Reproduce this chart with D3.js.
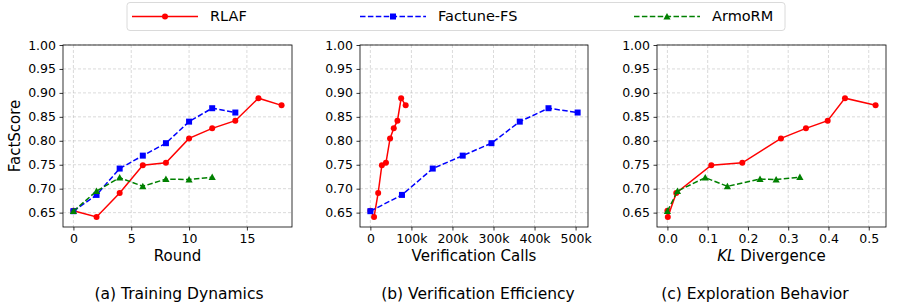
<!DOCTYPE html>
<html>
<head>
<meta charset="utf-8">
<script src="https://cdn.jsdelivr.net/npm/d3@7"></script>
<style>
  body { margin: 0; background: #fff; }
  text { font-family: "DejaVu Sans", sans-serif; fill: #000; }
</style>
</head>
<body>
<div class="chart"></div>
<script>
var svgWidth = 904;
var svgHeight = 302;

// data
var rlafRounds = [0, 2, 4, 6, 8, 10, 12, 14, 16, 18];
var rlafScore = [0.654, 0.641, 0.691, 0.749, 0.754, 0.805, 0.826, 0.842, 0.889, 0.874];
var rlafCalls = [0, 9000, 19000, 28000, 38000, 48000, 57000, 66000, 75000, 86000];
var rlafKL = [0.0, 0.001, 0.022, 0.109, 0.186, 0.282, 0.344, 0.398, 0.441, 0.517];

var factuneRounds = [0, 2, 4, 6, 8, 10, 12, 14];
var factuneScore = [0.653, 0.687, 0.742, 0.769, 0.795, 0.840, 0.868, 0.859];
var factuneCalls = [0, 77000, 152000, 225000, 295000, 364000, 434000, 505000];

var armoRounds = [0, 2, 4, 6, 8, 10, 12];
var armoScore = [0.653, 0.695, 0.723, 0.705, 0.720, 0.719, 0.724];
var armoKL = [0.0, 0.025, 0.094, 0.149, 0.230, 0.270, 0.329];

var yTicks = [0.65, 0.70, 0.75, 0.80, 0.85, 0.90, 0.95, 1.00];
var roundTicks = [0, 5, 10, 15];
var callTicks = [0, 100000, 200000, 300000, 400000, 500000];
var klTicks = [0.0, 0.1, 0.2, 0.3, 0.4, 0.5];

var seriesNames = ["RLAF", "Factune-FS", "ArmoRM"];
var captions = ["(a) Training Dynamics", "(b) Verification Efficiency", "(c) Exploration Behavior"];

var styles = {
  "RLAF": { color: "red", dash: null, marker: "circle" },
  "Factune-FS": { color: "blue", dash: "5.5,2.4", marker: "square" },
  "ArmoRM": { color: "green", dash: "5.5,2.4", marker: "triangle" }
};

var svg = d3.select(".chart")
  .append("svg")
  .attr("width", svgWidth)
  .attr("height", svgHeight);

var plotTop = 45, plotBottom = 227;

var yScale = d3.scaleLinear().domain([0.62, 1.0]).range([plotBottom, plotTop]);

function padDomain(vals) {
  var lo = d3.min(vals), hi = d3.max(vals);
  var m = (hi - lo) * 0.05;
  return [lo - m, hi + m];
}

function fmtK(d) { return d === 0 ? "0" : (d / 1000) + "k"; }

var panels = [
  {
    left: 63, right: 292,
    domain: padDomain(rlafRounds),
    ticks: roundTicks, fmt: d3.format("d"),
    xlabel: "Round", ylabel: true, captionX: 179,
    series: [
      { name: "RLAF", x: rlafRounds, y: rlafScore },
      { name: "Factune-FS", x: factuneRounds, y: factuneScore },
      { name: "ArmoRM", x: armoRounds, y: armoScore }
    ]
  },
  {
    left: 360, right: 588,
    domain: padDomain(factuneCalls),
    ticks: callTicks, fmt: fmtK,
    xlabel: "Verification Calls", ylabel: false, captionX: 478,
    series: [
      { name: "RLAF", x: rlafCalls, y: rlafScore },
      { name: "Factune-FS", x: factuneCalls, y: factuneScore }
    ]
  },
  {
    left: 657, right: 886,
    domain: padDomain(rlafKL),
    ticks: klTicks, fmt: d3.format(".1f"),
    xlabel: "KL", ylabel: false, captionX: 755,
    series: [
      { name: "RLAF", x: rlafKL, y: rlafScore },
      { name: "ArmoRM", x: armoKL, y: armoScore }
    ]
  }
];

function drawMarker(g, kind, cx, cy, color) {
  if (kind === "circle") {
    g.append("circle").attr("cx", cx).attr("cy", cy).attr("r", 3).attr("fill", color);
  } else if (kind === "square") {
    g.append("rect").attr("x", cx - 3).attr("y", cy - 3).attr("width", 6).attr("height", 6).attr("fill", color);
  } else {
    var s = 3.6;
    g.append("path")
      .attr("d", `M${cx},${cy - s}L${cx + s},${cy + s * 0.8}L${cx - s},${cy + s * 0.8}Z`)
      .attr("fill", color);
  }
}

panels.forEach(function(p, pi) {
  var xScale = d3.scaleLinear().domain(p.domain).range([p.left, p.right]);
  var g = svg.append("g");

  // grid
  g.selectAll("line.vgrid").data(p.ticks).enter().append("line")
    .attr("x1", d => xScale(d)).attr("x2", d => xScale(d))
    .attr("y1", plotTop).attr("y2", plotBottom)
    .attr("stroke", "#b0b0b0").attr("stroke-opacity", 0.6)
    .attr("stroke-width", 0.8).attr("stroke-dasharray", "3,2");
  g.selectAll("line.hgrid").data(yTicks).enter().append("line")
    .attr("x1", p.left).attr("x2", p.right)
    .attr("y1", d => yScale(d)).attr("y2", d => yScale(d))
    .attr("stroke", "#b0b0b0").attr("stroke-opacity", 0.6)
    .attr("stroke-width", 0.8).attr("stroke-dasharray", "3,2");

  // axes
  var xAxis = d3.axisBottom(xScale).tickValues(p.ticks).tickFormat(p.fmt).tickSize(3.5).tickPadding(3.5);
  var yAxis = d3.axisLeft(yScale).tickValues(yTicks).tickFormat(d3.format(".2f")).tickSize(3.5).tickPadding(3.5);

  var gx = g.append("g").attr("transform", `translate(0, ${plotBottom})`).call(xAxis);
  var gy = g.append("g").attr("transform", `translate(${p.left}, 0)`).call(yAxis);
  [gx, gy].forEach(function(a) {
    a.select(".domain").remove();
    a.selectAll("line").attr("stroke", "#000").attr("stroke-width", 0.8);
    a.selectAll("text").attr("font-size", "12.5px").attr("font-family", "DejaVu Sans").attr("fill", "#000");
  });

  g.append("rect")
    .attr("x", p.left).attr("y", plotTop)
    .attr("width", p.right - p.left).attr("height", plotBottom - plotTop)
    .attr("fill", "none").attr("stroke", "#000").attr("stroke-width", 0.8);

  // series
  p.series.forEach(function(s) {
    var st = styles[s.name];
    var pts = s.x.map((v, i) => [xScale(v), yScale(s.y[i])]);
    g.append("path")
      .attr("d", d3.line()(pts))
      .attr("fill", "none")
      .attr("stroke", st.color)
      .attr("stroke-width", 1.5)
      .attr("stroke-dasharray", st.dash);
    pts.forEach(function(pt) { drawMarker(g, st.marker, pt[0], pt[1], st.color); });
  });

  // x label
  var xl = g.append("text")
    .attr("x", (p.left + p.right) / 2).attr("y", 261)
    .attr("text-anchor", "middle").attr("font-size", "15px");
  if (p.xlabel === "KL") {
    xl.append("tspan").attr("font-style", "italic").text("KL");
    xl.append("tspan").text(" Divergence");
  } else {
    xl.text(p.xlabel);
  }

  if (p.ylabel) {
    g.append("text")
      .attr("transform", `translate(20, ${(plotTop + plotBottom) / 2}) rotate(-90)`)
      .attr("text-anchor", "middle").attr("font-size", "15px")
      .text("FactScore");
  }

  svg.append("text")
    .attr("x", p.captionX).attr("y", 299)
    .attr("text-anchor", "middle").attr("font-size", "15.5px")
    .text(captions[pi]);
});

// legend
var lg = svg.append("g");
lg.append("rect")
  .attr("x", 127).attr("y", 2.5).attr("width", 658).attr("height", 28)
  .attr("rx", 3).attr("fill", "#fff").attr("stroke", "#d0d0d0").attr("stroke-width", 0.8);

var legendX = [132, 360, 634];
seriesNames.forEach(function(name, i) {
  var st = styles[name];
  var x0 = legendX[i];
  lg.append("line")
    .attr("x1", x0).attr("x2", x0 + 66).attr("y1", 16.5).attr("y2", 16.5)
    .attr("stroke", st.color).attr("stroke-width", 1.5)
    .attr("stroke-dasharray", st.dash);
  drawMarker(lg, st.marker, x0 + 33, 16.5, st.color);
  lg.append("text")
    .attr("x", x0 + 78).attr("y", 20.5)
    .attr("font-size", "14.5px")
    .text(name);
});
</script>
</body>
</html>
